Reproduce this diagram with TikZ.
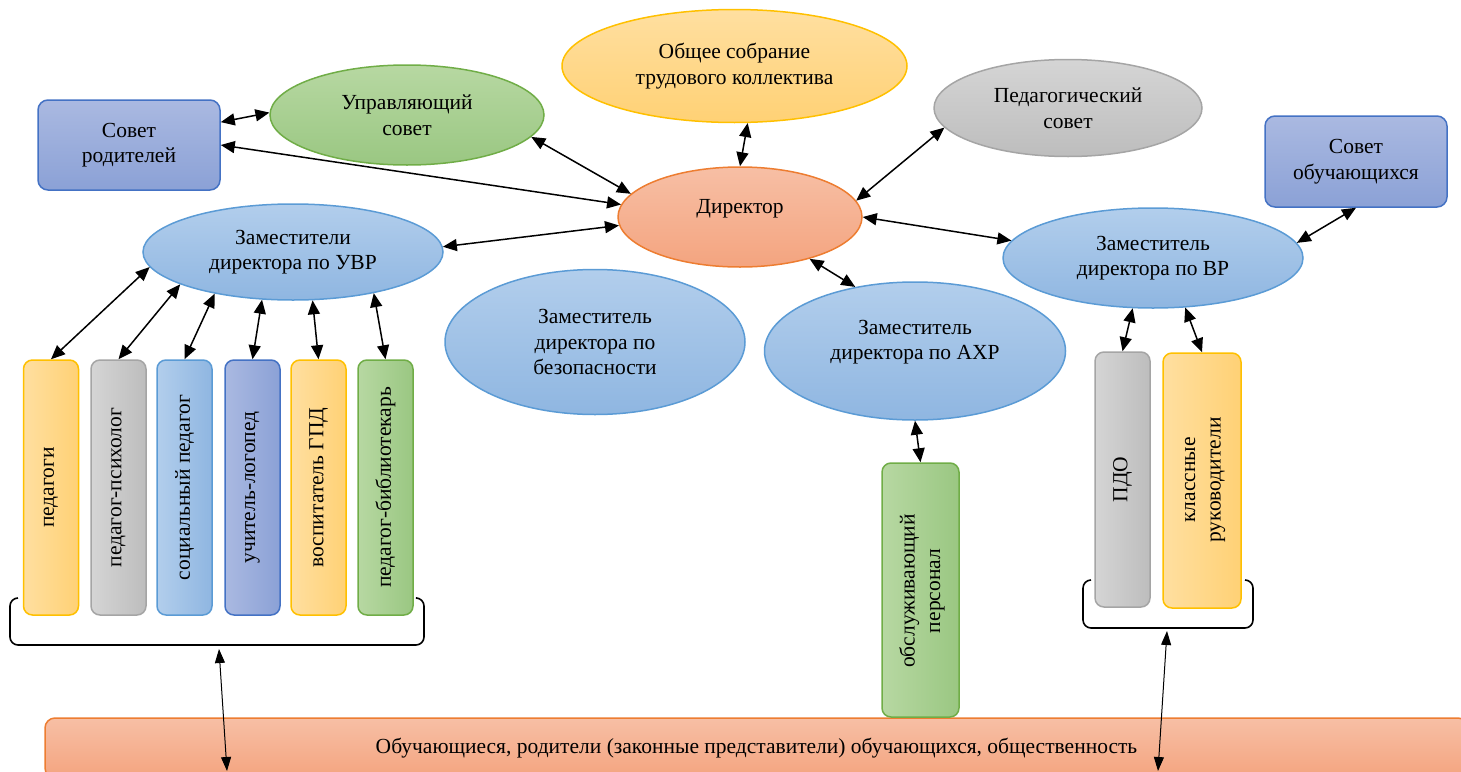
\documentclass[tikz,border=0pt]{standalone}
\usepackage{fontspec}
\setmainfont{Liberation Serif}
\usetikzlibrary{arrows.meta,shapes.geometric}
\newcommand\myfs{\fontsize{21.5}{25.5}\selectfont}
\definecolor{yelL}{HTML}{FFDFA0}\definecolor{yelD}{HTML}{FFD175}\definecolor{yelB}{HTML}{FFC000}
\definecolor{gryL}{HTML}{D5D5D5}\definecolor{gryD}{HTML}{BDBDBD}\definecolor{gryB}{HTML}{A5A5A5}
\definecolor{lbL}{HTML}{B2CEEC}\definecolor{lbD}{HTML}{8FB6E1}\definecolor{lbB}{HTML}{5B9BD5}
\definecolor{dbL}{HTML}{AAB9E1}\definecolor{dbD}{HTML}{8BA1D6}\definecolor{dbB}{HTML}{4472C4}
\definecolor{grnL}{HTML}{B7D8A2}\definecolor{grnD}{HTML}{9AC782}\definecolor{grnB}{HTML}{70AD47}
\definecolor{salL}{HTML}{F7BFA5}\definecolor{salD}{HTML}{F4A47F}\definecolor{salB}{HTML}{ED7D31}
\tikzset{
  ell/.style={ellipse, line width=1.5pt, inner sep=0pt, align=center, font=\myfs},
  rbox/.style={rectangle, rounded corners=10pt, line width=1.5pt, inner sep=0pt, align=center, font=\myfs},
  sbox/.style={rectangle, rounded corners=9pt, line width=1.5pt, inner sep=0pt, minimum width=55pt, minimum height=255pt},
  vtxt/.style={rotate=90, font=\myfs, align=center, inner sep=0pt},
  txt/.style={font=\myfs, align=center, inner sep=0pt},
  vyel/.style={draw=yelB, top color=yelL, bottom color=yelD},
  vgry/.style={draw=gryB, top color=gryL, bottom color=gryD},
  vlb/.style={draw=lbB, top color=lbL, bottom color=lbD},
  vdb/.style={draw=dbB, top color=dbL, bottom color=dbD},
  vgrn/.style={draw=grnB, top color=grnL, bottom color=grnD},
  vsal/.style={draw=salB, top color=salL, bottom color=salD},
  hyel/.style={draw=yelB, left color=yelL, right color=yelD},
  hgry/.style={draw=gryB, left color=gryL, right color=gryD},
  hlb/.style={draw=lbB, left color=lbL, right color=lbD},
  hdb/.style={draw=dbB, left color=dbL, right color=dbD},
  hgrn/.style={draw=grnB, left color=grnL, right color=grnD},
  arr/.style={{Triangle[length=14pt,width=12pt]}-{Triangle[length=14pt,width=12pt]}, line width=1.5pt},
  arrthin/.style={{Triangle[length=14pt,width=10pt]}-{Triangle[length=14pt,width=10pt]}, line width=1pt},
  brk/.style={line width=1.6pt, rounded corners=8pt}
}
\begin{document}
\begin{tikzpicture}[x=1pt,y=-1pt]
\useasboundingbox (0,0) rectangle (1461,771);
\clip (0,0) rectangle (1461,771);

% bottom bar
\node[rbox, vsal, minimum width=1423pt, minimum height=60pt] (bar) at (756.5,748)
  {Обучающиеся, родители (законные представители) обучающихся, общественность};

% top level
\node[rbox, vdb, minimum width=182pt, minimum height=90pt] (sr) at (129,145) {Совет\\родителей};
\node[ell, vgrn, minimum width=274pt, minimum height=100pt] (us) at (407,115) {Управляющий\\совет};
\node[ell, vyel, minimum width=345pt, minimum height=113pt] (os) at (734.5,66) {Общее собрание\\трудового коллектива};
\node[ell, vgry, minimum width=268pt, minimum height=97pt] (ps) at (1068,108) {Педагогический\\совет};
\node[ell, vsal, minimum width=244pt, minimum height=100pt] (dir) at (740,217) {};
\node[txt] (dirt) at (740,209) {Директор};
\node[rbox, vdb, minimum width=182pt, minimum height=91pt] (so) at (1356,161.5) {Совет\\обучающихся};
\node[ell, vlb, minimum width=300pt, minimum height=100pt] (vr) at (1153,258) {Заместитель\\директора по ВР};
\node[ell, vlb, minimum width=300pt, minimum height=96pt] (uvr) at (293,252) {Заместители\\директора по УВР};
\node[ell, vlb, minimum width=300pt, minimum height=145pt] (bez) at (595,342) {Заместитель\\директора по\\безопасности};
\node[ell, vlb, minimum width=301pt, minimum height=138pt] (ahr) at (915,351) {};
\node[txt] (ahrt) at (915,342) {Заместитель\\директора по АХР};

% staff boxes
\node[sbox, hyel] (p1) at (51,487.5) {};
\node[sbox, hgry] (p2) at (118.5,487.5) {};
\node[sbox, hlb]  (p3) at (184.5,487.5) {};
\node[sbox, hdb]  (p4) at (252.5,487.5) {};
\node[sbox, hyel] (p5) at (318.5,487.5) {};
\node[sbox, hgrn] (p6) at (385.5,487.5) {};
\node[vtxt] (p1t) at (p1) {педагоги};
\node[vtxt] (p2t) at (p2) {педагог-психолог};
\node[vtxt] (p3t) at (p3) {социальный педагог};
\node[vtxt] (p4t) at (p4) {учитель-логопед};
\node[vtxt] (p5t) at (p5) {воспитатель ГПД};
\node[vtxt] (p6t) at (p6) {педагог-библиотекарь};

\node[sbox, hgrn, minimum width=77pt, minimum height=254pt] (obs) at (920.5,590) {};
\node[vtxt] (obst) at (922,591) {обслуживающий\\персонал};

\node[sbox, hgry] (pdo) at (1122.5,479.5) {};
\node[sbox, hyel, minimum width=78pt] (kr) at (1202,480.5) {};
\node[vtxt] (pdot) at (pdo) {ПДО};
\node[vtxt] (krt) at (1205,480) {классные\\руководители};

% brackets
\draw[brk] (18,598) -- (10,598) -- (10,645) -- (424,645) -- (424,598) -- (417,598);
\draw[brk] (1091,580) -- (1083,580) -- (1083,628) -- (1253,628) -- (1253,580) -- (1245,580);
\coordinate (lbt) at (219,649);
\coordinate (lbb) at (227,771);
\coordinate (rbt) at (1167,631);
\coordinate (rbb) at (1158,771);

% connectors
\draw[arr] (sr.14) -- (us.179);
\draw[arr] (sr.east) -- (dir.174);
\draw[arr] (us.-10) -- (dir.168);
\draw[arr] (os.-77) -- (dir.90);
\draw[arr] (ps.189) -- (dir.8);
\draw[arr] (dir.0) -- (vr.173);
\draw[arr] (uvr.2) -- (dir.184);
\draw[arr] (dir.-31) -- (ahr.133);
\draw[arr] (vr.6) -- (so.south);
\draw[arr] (uvr.186) -- (p1.north);
\draw[arr] (uvr.196) -- (p2.north);
\draw[arr] (uvr.208) -- (p3.north);
\draw[arr] (uvr.237) -- (p4.north);
\draw[arr] (uvr.-68) -- (p5.north);
\draw[arr] (uvr.-27) -- (p6.north);
\draw[arr] (ahr.south) -- (obs.north);
\draw[arr] (vr.248) -- (pdo.north);
\draw[arr] (vr.-57) -- (kr.north);
\draw[arrthin] (lbt) -- (lbb);
\draw[arrthin] (rbt) -- (rbb);
\end{tikzpicture}
\end{document}
